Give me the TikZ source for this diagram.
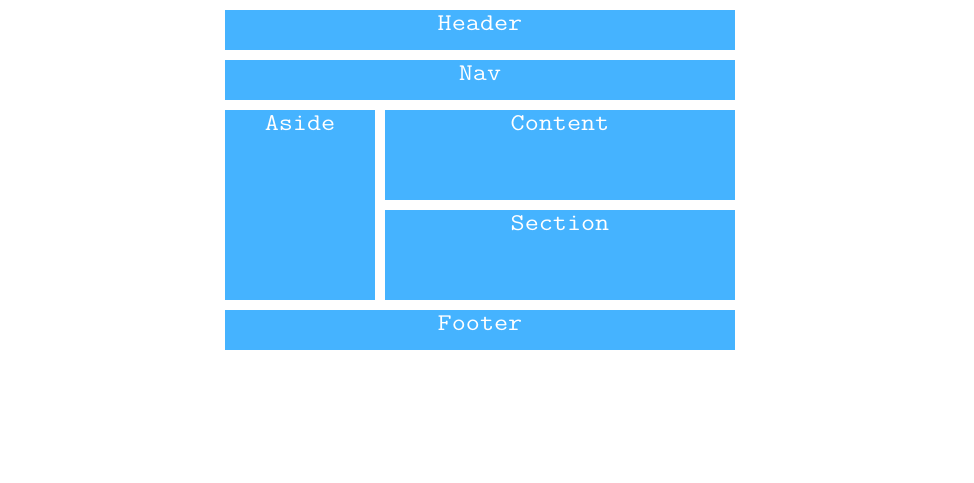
\documentclass[tikz,border=0pt]{standalone}
\usepackage{fontspec}
\setmonofont{Latin Modern Mono}[FakeStretch=1.14]
\definecolor{boxblue}{HTML}{45B3FF}
\begin{document}
\begin{tikzpicture}[x=1pt,y=-1pt,
  blk/.style={fill=boxblue,draw=none},
  lbl/.style={anchor=base,text=white,font=\ttfamily\fontsize{24}{24}\selectfont,inner sep=0pt}]
\useasboundingbox[fill=white] (0,0) rectangle (974,482);
\fill[blk] (225,10) rectangle (735,50);
\node[lbl] (header) at (480,30.5) {Header};
\fill[blk] (225,60) rectangle (735,100);
\node[lbl] (nav) at (480,80.5) {Nav};
\fill[blk] (225,110) rectangle (375,300);
\node[lbl] (aside) at (300,130.5) {Aside};
\fill[blk] (385,110) rectangle (735,200);
\node[lbl] (content) at (560,130.5) {Content};
\fill[blk] (385,210) rectangle (735,300);
\node[lbl] (section) at (560,230.5) {Section};
\fill[blk] (225,310) rectangle (735,350);
\node[lbl] (footer) at (480,330.5) {Footer};
\end{tikzpicture}
\end{document}
